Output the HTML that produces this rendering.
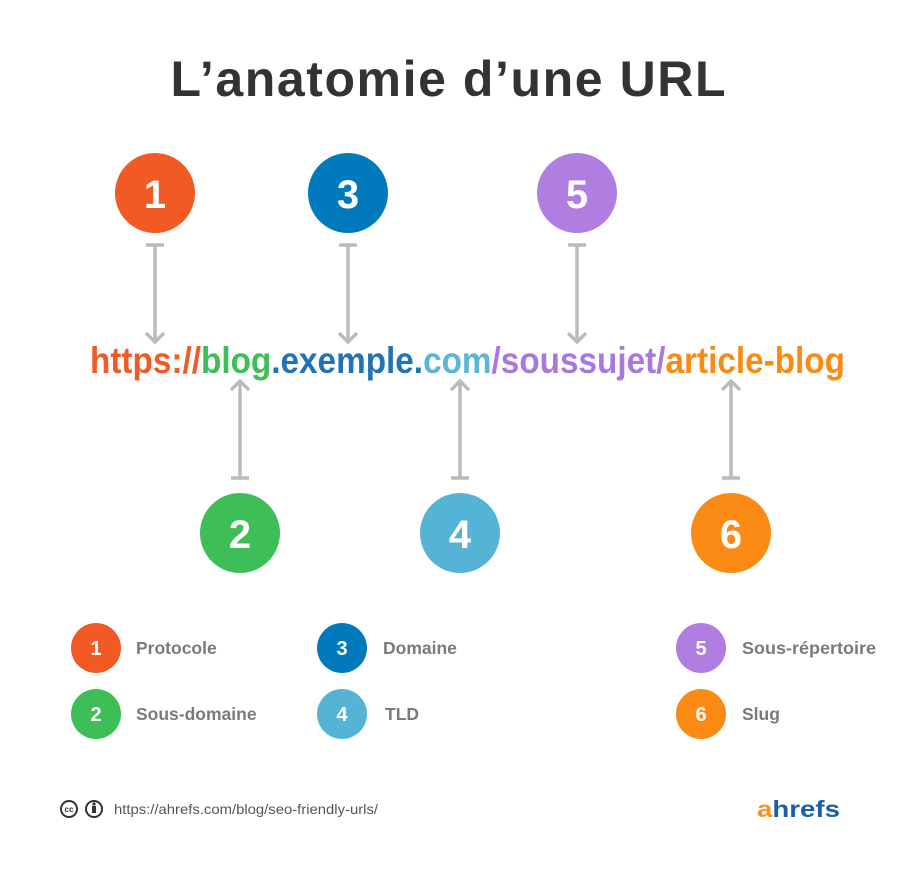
<!DOCTYPE html>
<html><head><meta charset="utf-8"><style>
body{margin:0;background:#fff}
svg{display:block}
</style></head><body>
<svg width="900" height="880" viewBox="0 0 900 880" xmlns="http://www.w3.org/2000/svg" font-family="Liberation Sans, sans-serif">
<text x="448" y="96" text-anchor="middle" font-size="50" font-weight="bold" fill="#333" textLength="555" lengthAdjust="spacing">L’anatomie d’une URL</text>
<g font-weight="bold" font-size="40" fill="#fff" text-anchor="middle">
<circle cx="155" cy="193" r="40" fill="#f15a24"/><text x="155" y="208">1</text>
<circle cx="348" cy="193" r="40" fill="#0079bd"/><text x="348" y="208">3</text>
<circle cx="577" cy="193" r="40" fill="#b07ee0"/><text x="577" y="208">5</text>
<circle cx="240" cy="533" r="40" fill="#3dbe57"/><text x="240" y="548">2</text>
<circle cx="460" cy="533" r="40" fill="#55b4d6"/><text x="460" y="548">4</text>
<circle cx="731" cy="533" r="40" fill="#fb8a14"/><text x="731" y="548">6</text>
</g>
<g stroke="#bbb" stroke-width="3.5" fill="none">
<path d="M146 245h18M155 245v96M146 333l9 9 9-9"/>
<path d="M339 245h18M348 245v96M339 333l9 9 9-9"/>
<path d="M568 245h18M577 245v96M568 333l9 9 9-9"/>
<path d="M231 478h18M240 478v-96M231 390l9-9 9 9"/>
<path d="M451 478h18M460 478v-96M451 390l9-9 9 9"/>
<path d="M722 478h18M731 478v-96M722 390l9-9 9 9"/>
</g>
<text x="90" y="373" font-size="37" font-weight="bold" textLength="755" lengthAdjust="spacingAndGlyphs"><tspan fill="#f15a24">https://</tspan><tspan fill="#3dbe57">blog</tspan><tspan fill="#1f73b7">.exemple.</tspan><tspan fill="#5ab5d8">com</tspan><tspan fill="#a878e0">/soussujet/</tspan><tspan fill="#fb8a14">article-blog</tspan></text>
<g font-weight="bold" font-size="20" fill="#fff" text-anchor="middle">
<circle cx="96" cy="648" r="25" fill="#f15a24"/><text x="96" y="655">1</text>
<circle cx="96" cy="714" r="25" fill="#3dbe57"/><text x="96" y="721">2</text>
<circle cx="342" cy="648" r="25" fill="#0079bd"/><text x="342" y="655">3</text>
<circle cx="342" cy="714" r="25" fill="#55b4d6"/><text x="342" y="721">4</text>
<circle cx="701" cy="648" r="25" fill="#b07ee0"/><text x="701" y="655">5</text>
<circle cx="701" cy="714" r="25" fill="#fb8a14"/><text x="701" y="721">6</text>
</g>
<g font-size="17.5" font-weight="bold" fill="#7a7a7a">
<text x="136" y="654">Protocole</text>
<text x="136" y="720">Sous-domaine</text>
<text x="383" y="654">Domaine</text>
<text x="385" y="720">TLD</text>
<text x="742" y="654" textLength="134" lengthAdjust="spacingAndGlyphs">Sous-répertoire</text>
<text x="742" y="720">Slug</text>
</g>
<g stroke="#333" stroke-width="2" fill="none">
<circle cx="69" cy="809" r="8"/><circle cx="94" cy="809" r="8"/>
</g>
<text x="69" y="812" font-size="8" font-weight="bold" text-anchor="middle" fill="#333">cc</text>
<circle cx="94" cy="804" r="1.6" fill="#333"/><rect x="92" y="806" width="4" height="7" fill="#333"/>
<text x="114" y="814" font-size="14" fill="#555" textLength="264" lengthAdjust="spacingAndGlyphs">https://ahrefs.com/blog/seo-friendly-urls/</text>
<text x="757" y="817" font-size="23" font-weight="bold" textLength="83" lengthAdjust="spacingAndGlyphs"><tspan fill="#f7941d">a</tspan><tspan fill="#1a5fa8">hrefs</tspan></text>
</svg>
</body></html>
